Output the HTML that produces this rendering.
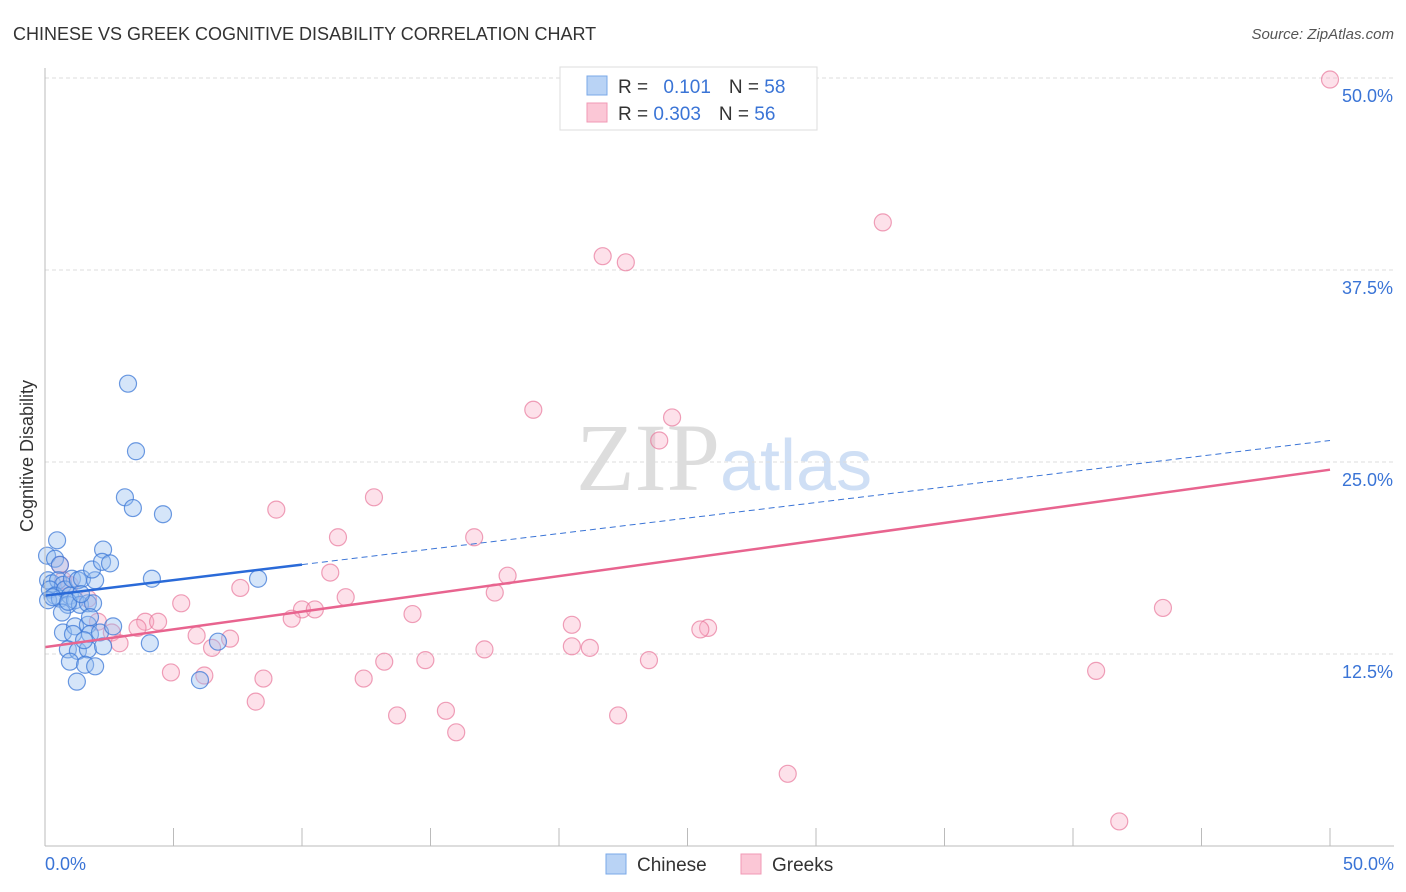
<!DOCTYPE html>
<html><head><meta charset="utf-8"><style>
body{margin:0;background:#fff;font-family:"Liberation Sans",sans-serif}
svg{display:block}
</style></head><body>
<svg id="chart" width="1406" height="892">
<text x="13" y="40" font-size="18" fill="#333">CHINESE VS GREEK COGNITIVE DISABILITY CORRELATION CHART</text>
<text x="1394" y="39" font-size="15" fill="#555" font-style="italic" text-anchor="end">Source: ZipAtlas.com</text>
<text x="33" y="456" font-size="18" fill="#333" text-anchor="middle" transform="rotate(-90 33 456)">Cognitive Disability</text>
<text x="720" y="490" font-size="96" fill="#ddd" text-anchor="end" font-family="Liberation Serif">ZIP</text>
<text x="720" y="490" font-size="72" fill="#cfdff5">atlas</text>
<g id="grid"></g><g id="marks"></g>
<line x1="45" y1="68" x2="45" y2="846" stroke="#bbb"/>
<line x1="45" y1="846" x2="1394" y2="846" stroke="#bbb"/>
<text x="45" y="870" font-size="18" fill="#3a74d6">0.0%</text>
<text x="1394" y="870" font-size="18" fill="#3a74d6" text-anchor="end">50.0%</text>
<g>
<rect x="560" y="67" width="257" height="63" fill="#fff" stroke="#ddd"/>
<rect x="587" y="76" width="20" height="19" fill="#b9d3f5" stroke="#7aa8e8"/>
<rect x="587" y="103" width="20" height="19" fill="#fbc7d6" stroke="#f09ab5"/>
<text x="618" y="93" font-size="19" fill="#333">R = <tspan fill="#3a74d6" dx="10">0.101</tspan><tspan dx="18">N = </tspan><tspan fill="#3a74d6">58</tspan></text>
<text x="618" y="120" font-size="19" fill="#333">R = <tspan fill="#3a74d6">0.303</tspan><tspan dx="18">N = </tspan><tspan fill="#3a74d6">56</tspan></text>
</g>
<g>
<rect x="606" y="854" width="20" height="20" fill="#b9d3f5" stroke="#7aa8e8"/>
<text x="637" y="871" font-size="19" fill="#333">Chinese</text>
<rect x="741" y="854" width="20" height="20" fill="#fbc7d6" stroke="#f09ab5"/>
<text x="772" y="871" font-size="19" fill="#333">Greeks</text>
</g>
</svg>
<script>
const yTicks=[12.5,25,37.5,50];
const xTicks=[5,10,15,20,25,30,35,40,45,50];
const chineseX=[0.08,0.47,0.39,0.58,0.12,0.27,0.51,0.70,0.19,0.39,0.12,0.58,0.78,0.97,0.89,1.05,1.28,1.44,0.66,1.17,1.36,1.67,1.87,1.95,1.83,2.26,2.22,2.53,0.70,1.17,1.09,1.67,1.75,2.14,2.65,0.89,1.28,1.67,2.26,0.97,1.56,1.95,1.24,3.23,3.54,3.11,3.42,4.59,4.16,4.08,6.73,6.03,8.29,1.75,1.52,0.3,0.9,1.4];
const chineseY=[18.9,19.9,18.7,18.3,17.3,17.1,17.3,17.0,16.7,16.3,16.0,16.1,16.7,16.3,15.7,17.4,17.3,17.4,15.2,16.0,15.7,15.8,15.8,17.3,18.0,19.3,18.5,18.4,13.9,14.3,13.8,14.4,13.8,13.9,14.3,12.8,12.7,12.8,13.0,12.0,11.8,11.7,10.7,30.1,25.7,22.7,22.0,21.6,17.4,13.2,13.3,10.8,17.4,14.9,13.4,16.2,15.9,16.4];
const greekX=[50,32.6,21.7,22.6,19.0,24.4,23.9,12.8,9.0,11.4,16.7,11.1,18.0,7.6,11.7,17.5,5.3,10.0,10.5,9.6,14.3,43.5,20.5,25.8,25.5,3.9,4.4,3.6,2.6,2.9,5.9,7.2,6.5,20.5,21.2,17.1,23.5,14.8,13.2,4.9,6.2,8.5,12.4,40.9,8.2,13.7,15.6,22.3,16.0,28.9,41.8,0.58,0.70,0.97,1.67,2.06];
const greekY=[49.9,40.6,38.4,38.0,28.4,27.9,26.4,22.7,21.9,20.1,20.1,17.8,17.6,16.8,16.2,16.5,15.8,15.4,15.4,14.8,15.1,15.5,14.4,14.2,14.1,14.6,14.6,14.2,13.9,13.2,13.7,13.5,12.9,13.0,12.9,12.8,12.1,12.1,12.0,11.3,11.1,10.9,10.9,11.4,9.4,8.5,8.8,8.5,7.4,4.7,1.6,18.3,17.3,17.0,16.1,14.6];
const chineseTrend=[16.3,26.4];
const greekTrend=[12.95,24.5];
const sx=v=>45+v/50*1285, sy=v=>846-v/50*768;
const NS='http://www.w3.org/2000/svg';
const grid=document.getElementById('grid'), marks=document.getElementById('marks');
function mk(tag,attrs,parent){const e=document.createElementNS(NS,tag);for(const k in attrs)e.setAttribute(k,attrs[k]);parent.appendChild(e);return e;}
yTicks.forEach(t=>{
 const l=mk('line',{x1:45,x2:1394,y1:sy(t),y2:sy(t),stroke:'#ddd','stroke-dasharray':'4 3'},grid);
 
 
 const tx=mk('text',{x:1393,y:sy(t)+24,'font-size':18,fill:'#3a74d6','text-anchor':'end'},grid);
 tx.textContent=t.toFixed(1)+'%';
 
 
});
xTicks.forEach(t=>{
 const l=mk('line',{x1:sx(t),x2:sx(t),y1:828,y2:846,stroke:'#bbb'},grid);
 
 
});
function pts(X,Y,fill,stroke,name){X.forEach((x,i)=>{
 const c=mk('circle',{cx:sx(x),cy:sy(Y[i]),r:8.5,fill:fill,stroke:stroke,'stroke-width':1.2},marks);
 
 
});}
pts(greekX,greekY,'rgba(248,170,195,0.35)','rgba(232,120,155,0.7)','greek-point');
pts(chineseX,chineseY,'rgba(150,190,240,0.4)','rgba(60,120,215,0.75)','chinese-point');
const bx=v=>chineseTrend[0]+(chineseTrend[1]-chineseTrend[0])*v/50;
let l=mk('line',{x1:sx(10),y1:sy(bx(10)),x2:sx(50),y2:sy(bx(50)),stroke:'#3a74d6','stroke-width':1,'stroke-dasharray':'6 4'},marks);


l=mk('line',{x1:sx(0),y1:sy(bx(0)),x2:sx(10),y2:sy(bx(10)),stroke:'#2a6ad8','stroke-width':2.5},marks);


l=mk('line',{x1:sx(0),y1:sy(greekTrend[0]),x2:sx(50),y2:sy(greekTrend[1]),stroke:'#e8648f','stroke-width':2.5},marks);


</script>
</body></html>
